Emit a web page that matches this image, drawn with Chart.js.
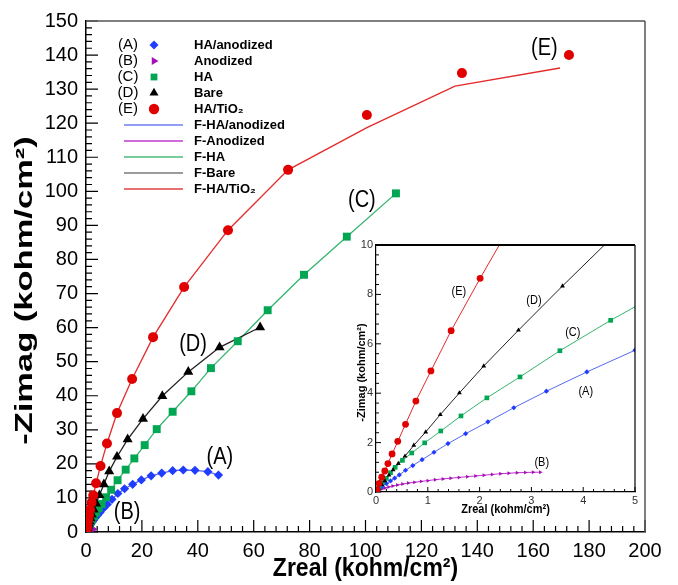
<!DOCTYPE html>
<html><head><meta charset="utf-8">
<script src="https://cdn.jsdelivr.net/npm/chart.js@4.4.1/dist/chart.umd.min.js"></script>
<style>
html,body{margin:0;padding:0;background:#fff;}
#wrap{position:relative;width:678px;height:585px;overflow:hidden;}
#main{position:absolute;left:0;top:0;}
#inset{position:absolute;left:330px;top:235px;}
</style></head><body>
<div id="wrap"><canvas id="main" width="678" height="585"></canvas><canvas id="inset" width="315" height="285"></canvas></div>
<script>
// ---------------- data ----------------
const seriesNames = ['HA/anodized', 'Anodized', 'HA', 'Bare', 'HA/TiO₂'];
const seriesTags  = ['(A)', '(B)', '(C)', '(D)', '(E)'];
const fitNames    = ['F-HA/anodized', 'F-Anodized', 'F-HA', 'F-Bare', 'F-HA/TiO₂'];

// (A) HA/anodized
const aX = [0.05,0.12,0.2,0.28,0.36,0.45,0.57,0.71,0.89,1.12,1.39,1.73,2.16,2.66,3.29,4.07,5.0,6.2,7.6,9.3,11.4,13.8,16.7,19.8,23.3,27.1,31.0,34.8,39.0,43.6,47.4];
const aY = [0.1,0.22,0.34,0.45,0.56,0.69,0.88,1.07,1.31,1.61,1.96,2.36,2.84,3.41,4.08,4.86,5.74,6.9,8.1,9.6,11.3,12.7,14.0,15.3,16.5,17.3,18.0,18.2,18.1,17.7,16.7];
// (B) Anodized
const bX = [0.02,0.06,0.11,0.17,0.24,0.32,0.41,0.51,0.62,0.74,0.87,1.0,1.14,1.29,1.44,1.6,1.76,1.92,2.08,2.24,2.4,2.56,2.72,2.88,3.03,3.17];
const bY = [0.04,0.08,0.12,0.16,0.2,0.24,0.28,0.32,0.36,0.39,0.43,0.46,0.5,0.53,0.56,0.59,0.62,0.65,0.68,0.71,0.74,0.76,0.78,0.79,0.8,0.8];
// (C) HA
const cX = [0.06,0.13,0.2,0.28,0.37,0.51,0.69,0.94,1.25,1.64,2.14,2.78,3.55,4.53,5.6,7.2,9.0,11.3,14.2,17.3,21.0,25.3,31.0,37.7,44.7,54.3,65.0,78.0,93.3,110.9];
const cY = [0.2,0.38,0.55,0.78,1.0,1.28,1.58,1.99,2.47,3.08,3.81,4.66,5.72,6.95,8.2,10.2,12.4,15.2,18.3,21.6,25.5,30.2,35.3,41.3,48.1,56.0,65.1,75.5,86.7,99.4];
// (D) Bare
const dX = [0.05,0.11,0.17,0.25,0.33,0.43,0.56,0.73,0.96,1.24,1.61,2.08,2.75,3.6,4.8,6.4,8.3,11.1,14.9,20.4,27.3,36.6,47.8,62.3];
const dY = [0.15,0.3,0.45,0.68,0.9,1.15,1.45,1.89,2.43,3.13,4.01,5.1,6.55,8.34,10.8,14.0,17.8,22.1,27.2,33.2,39.9,47.0,54.2,60.1];
// (E) HA/TiO2
const eX = [0.02,0.06,0.11,0.17,0.23,0.31,0.42,0.57,0.77,1.06,1.45,2.01,2.6,3.6,5.2,7.5,11.1,16.5,24.0,35.1,50.8,72.3,100.5,134.5,172.8];
const eY = [0.1,0.35,0.6,0.85,1.15,1.54,2.05,2.74,3.68,4.9,6.53,8.65,10.8,14.3,19.4,26.0,34.9,44.9,57.2,71.9,88.6,106.3,122.4,134.7,140.0];
// fitted curve for (E) (departs from the points at high Zreal)
const fitEX = [0,0.11,0.23,0.42,0.77,1.06,1.45,2.01,2.6,3.6,5.2,7.5,11.1,16.5,24.0,35.1,50.8,72.3,100.5,132.0,169.6];
const fitEY = [0,0.6,1.15,2.05,3.68,4.9,6.53,8.65,10.8,14.3,19.4,26.0,34.9,44.9,57.2,71.9,88.6,106.3,118.7,130.9,136.2];

// curve tags placed in data coordinates
const mainNotes  = [['(E)',164,142],['(C)',98.7,97.4],['(D)',38.3,54.9],['(A)',47.9,21.7],['(B)',14.7,5.6]];
const insetNotes = [['(E)',1.6,8.13],['(D)',3.05,7.73],['(C)',3.8,6.47],['(A)',4.05,4.08],['(B)',3.2,1.2]];

// axis tick settings: range, major step, minor subdivisions, tick lengths in px, plot size in px
const mainAxes  = { xMax: 200, xStep: 20, yMax: 150, yStep: 10, minorPer: 5, majorPx: 12, minorPx: 6, plotW: 559, plotH: 511 };
const insetAxes = { xMax: 5,   xStep: 1,  yMax: 10,  yStep: 2,  minorPer: 5, majorPx: 5,  minorPx: 3, plotW: 259, plotH: 247 };

// ---------------- styling ----------------
const COL = {
  A:'#1f3cff', B:'#a311b5', C:'#00a651', D:'#000000', E:'#e00000',
  fA:'#5468f2', fB:'#c22ed0', fC:'#35b46e', fD:'#222222', fE:'#e42a2a'
};
const LEG_LINE = ['#6f7ff2','#c63ad2','#48bb7c','#7a7a7a','#e04040'];
const FONT = "'Liberation Sans', Arial, Helvetica, sans-serif";

const pts = (xs, ys) => xs.map((x, i) => ({x, y: ys[i]}));
const withOrigin = (xs, ys) => [{x:0, y:0}].concat(pts(xs, ys));

// inward tick marks drawn as short segments through the chart's own scales
function tickSegments(ax) {
  const segs = [];
  const nx = Math.round(ax.xMax / ax.xStep) * ax.minorPer;
  const yPerPx = ax.yMax / ax.plotH, xPerPx = ax.xMax / ax.plotW;
  for (let i = 0; i <= nx; i++) {
    const v = i * ax.xStep / ax.minorPer;
    const len = (i % ax.minorPer === 0 ? ax.majorPx : ax.minorPx) * yPerPx;
    segs.push({x: v, y: 0}, {x: v, y: len}, {x: v, y: null});
  }
  const ny = Math.round(ax.yMax / ax.yStep) * ax.minorPer;
  for (let i = 0; i <= ny; i++) {
    const v = i * ax.yStep / ax.minorPer;
    const len = (i % ax.minorPer === 0 ? ax.majorPx : ax.minorPx) * xPerPx;
    segs.push({x: 0, y: v}, {x: len, y: v}, {x: len, y: null});
  }
  return segs;
}

function buildDatasets(s, ax) {
  const mk = (label, data, color, style, r, rot) => ({
    label, data, showLine:false, pointStyle:style, pointRadius:r, pointHoverRadius:r,
    pointRotation:rot||0, backgroundColor:color, borderColor:color, pointBorderWidth:0, borderWidth:0
  });
  const ln = (label, data, color) => ({
    label, data, showLine:true, pointRadius:0, pointHoverRadius:0, borderColor:color,
    backgroundColor:color, borderWidth:s.lw, tension:0, fill:false
  });
  return [
    mk(seriesNames[4], pts(eX,eY), COL.E, 'circle', s.e),
    mk(seriesNames[3], pts(dX,dY), COL.D, 'triangle', s.d),
    mk(seriesNames[2], pts(cX,cY), COL.C, 'rect', s.c),
    mk(seriesNames[0], pts(aX,aY), COL.A, 'rectRot', s.a),
    mk(seriesNames[1], pts(bX,bY), COL.B, 'triangle', s.b, 90),
    ln(fitNames[4], pts(fitEX,fitEY), COL.fE),
    ln(fitNames[3], withOrigin(dX,dY), COL.fD),
    ln(fitNames[2], withOrigin(cX,cY), COL.fC),
    ln(fitNames[0], withOrigin(aX,aY), COL.fA),
    ln(fitNames[1], withOrigin(bX,bY), COL.fB),
    { label: 'axis ticks', data: tickSegments(ax), showLine: true, spanGaps: false, pointRadius: 0, pointHoverRadius: 0,
      borderColor: '#000', backgroundColor: '#000', borderWidth: s.tw, tension: 0, fill: false, clip: 20 }
  ];
}

// decoration settings per canvas
const DECOR = {
  main: {
    frameColor: '#555', topWidth: 1.5, rightWidth: 1.5,
    xTitle: 'Zreal (kohm/cm²)', yTitle: '-Zimag (kohm/cm²)',
    titleFont: 'bold 23px ' + FONT, xTitleOff: 37, xStretch: 1.15,
    yTitleOff: 60, yTitleDy: 14, yStretch: 1.5,
    notes: mainNotes, noteFont: '20px ' + FONT, noteStretch: 1.15,
    legend: {
      tagX: 128, markX: 154, textX: 194, y0: 45, y1: 125, dy: 16,
      lineX0: 124, lineX1: 183, r: [4.5, 4.5, 4.8, 5.2, 5.2],
      tagFont: '15px ' + FONT, labelFont: 'bold 13px ' + FONT
    }
  },
  inset: {
    frameColor: '#000', topWidth: 2, rightWidth: 1.2,
    xTitle: 'Zreal (kohm/cm²)', yTitle: '-Zimag (kohm/cm²)',
    titleFont: 'bold 11px ' + FONT, xTitleOff: 18, xStretch: 1.1,
    yTitleOff: 14, yTitleDy: 4, yStretch: 1,
    notes: insetNotes, noteFont: '11px ' + FONT, noteStretch: 1.1,
    legend: null
  }
};

function stretchedText(ctx, text, x, y, rot, sx, sy, font, color) {
  ctx.save();
  ctx.translate(x, y); ctx.rotate(rot); ctx.scale(sx, sy);
  ctx.font = font; ctx.fillStyle = color || '#000';
  ctx.textAlign = 'center'; ctx.textBaseline = 'middle';
  ctx.fillText(text, 0, 0);
  ctx.restore();
}

// frame, titles, curve tags, legend
const decorPlugin = {
  id: 'decor',
  afterDraw(chart) {
    const o = DECOR[chart.canvas.id];
    const ctx = chart.ctx, a = chart.chartArea, xs = chart.scales.x, ys = chart.scales.y;
    ctx.save();
    ctx.strokeStyle = o.frameColor;
    ctx.lineWidth = o.topWidth;
    ctx.beginPath(); ctx.moveTo(a.left, a.top); ctx.lineTo(a.right, a.top); ctx.stroke();
    ctx.lineWidth = o.rightWidth;
    ctx.beginPath(); ctx.moveTo(a.right, a.top); ctx.lineTo(a.right, a.bottom); ctx.stroke();
    ctx.restore();

    const cx = (a.left + a.right) / 2, cy = (a.top + a.bottom) / 2;
    stretchedText(ctx, o.xTitle, cx, a.bottom + o.xTitleOff, 0, 1, o.xStretch, o.titleFont);
    stretchedText(ctx, o.yTitle, a.left - o.yTitleOff, cy + o.yTitleDy, -Math.PI / 2, o.yStretch, 1, o.titleFont);

    for (const [t, vx, vy] of o.notes) {
      stretchedText(ctx, t, xs.getPixelForValue(vx), ys.getPixelForValue(vy), 0, 1, o.noteStretch, o.noteFont, '#000');
    }

    if (o.legend) {
      const L = o.legend;
      const dsByLabel = {};
      chart.data.datasets.forEach(d => dsByLabel[d.label] = d);
      ctx.save();
      ctx.textBaseline = 'middle';
      for (let i = 0; i < 5; i++) {
        const y = L.y0 + i * L.dy;
        ctx.fillStyle = '#000'; ctx.textAlign = 'center'; ctx.font = L.tagFont;
        ctx.fillText(seriesTags[i], L.tagX, y);
        const d = dsByLabel[seriesNames[i]];
        ctx.fillStyle = d.backgroundColor; ctx.strokeStyle = d.backgroundColor;
        Chart.helpers.drawPoint(ctx, {pointStyle: d.pointStyle, radius: L.r[i], rotation: d.pointRotation || 0, borderWidth: 0}, L.markX, y);
        ctx.fillStyle = '#000'; ctx.textAlign = 'left'; ctx.font = L.labelFont;
        ctx.fillText(seriesNames[i], L.textX, y);
      }
      for (let i = 0; i < 5; i++) {
        const y = L.y1 + i * L.dy;
        ctx.strokeStyle = LEG_LINE[i]; ctx.lineWidth = 1.5;
        ctx.beginPath(); ctx.moveTo(L.lineX0, y); ctx.lineTo(L.lineX1, y); ctx.stroke();
        ctx.fillStyle = '#000'; ctx.textAlign = 'left'; ctx.font = L.labelFont;
        ctx.fillText(fitNames[i], L.textX, y);
      }
      ctx.restore();
    }
  }
};

function axis(min, max, step, size, pad, color, bw, fit) {
  return {
    type: 'linear', min, max,
    ticks: { stepSize: step, color, padding: pad, maxRotation: 0, autoSkip: false, font: { family: FONT, size } },
    grid: { display: false, drawTicks: false },
    border: { display: true, color: '#000', width: bw },
    afterFit: fit
  };
}

// ---------------- main chart ----------------
new Chart(document.getElementById('main'), {
  type: 'scatter',
  data: { datasets: buildDatasets({e:5, d:5.8, c:5.6, a:4.6, b:2.8, lw:1.3, tw:1.2}, mainAxes) },
  options: {
    responsive: false, animation: false, devicePixelRatio: 1,
    layout: { padding: { top: 21, right: 33, left: 0, bottom: 0 } },
    plugins: { legend: { display: false }, tooltip: { enabled: false } },
    scales: {
      x: axis(0, mainAxes.xMax, mainAxes.xStep, 20, 7, '#000', 1.5, s => { s.height = 53; }),
      y: axis(0, mainAxes.yMax, mainAxes.yStep, 20, 8, '#000', 1.5, s => { s.width = 86; })
    }
  },
  plugins: [decorPlugin]
});

// ---------------- inset chart ----------------
new Chart(document.getElementById('inset'), {
  type: 'scatter',
  data: { datasets: buildDatasets({e:3.4, d:2.8, c:3.3, a:2.6, b:2.3, lw:1, tw:1}, insetAxes) },
  options: {
    responsive: false, animation: false, devicePixelRatio: 1,
    layout: { padding: { top: 10, right: 10, left: 0, bottom: 0 } },
    plugins: { legend: { display: false }, tooltip: { enabled: false } },
    scales: {
      x: axis(0, insetAxes.xMax, insetAxes.xStep, 11, 2, '#333', 1.2, s => { s.height = 28; }),
      y: axis(0, insetAxes.yMax, insetAxes.yStep, 11, 3, '#333', 1.2, s => { s.width = 46; })
    }
  },
  plugins: [decorPlugin]
});
</script>
</body></html>
